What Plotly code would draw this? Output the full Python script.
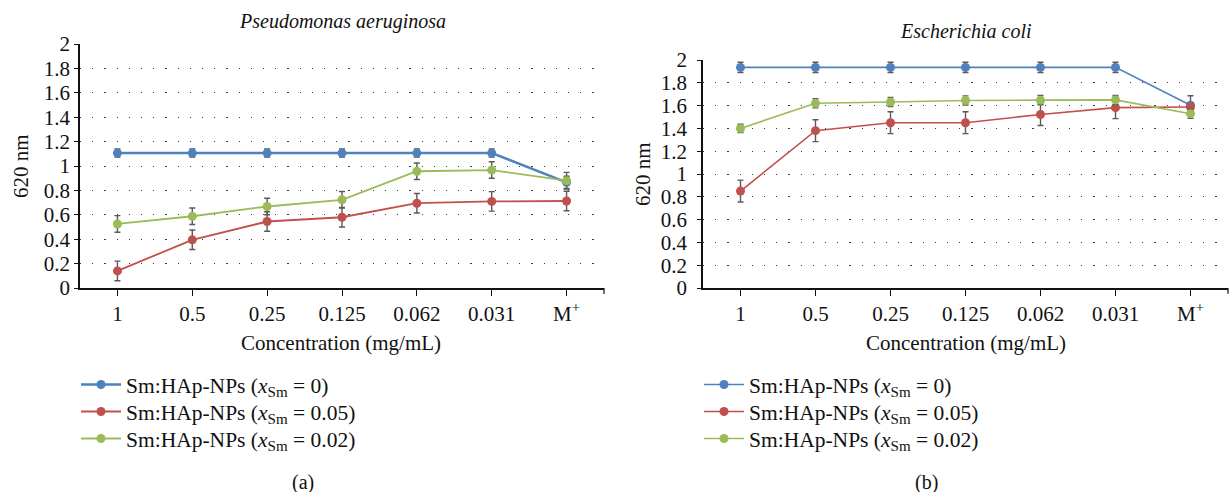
import plotly.graph_objects as go

# Categories on the x axis (concentration, mg/mL; M+ = positive control)
categories = ["1", "0.5", "0.25", "0.125", "0.062", "0.031", "M<sup>+</sup>"]

series_names = [
    "Sm:HAp-NPs (<i>x</i><sub>Sm</sub> = 0)",
    "Sm:HAp-NPs (<i>x</i><sub>Sm</sub> = 0.05)",
    "Sm:HAp-NPs (<i>x</i><sub>Sm</sub> = 0.02)",
]
series_colors = ["#4F81BD", "#C0504D", "#9BBB59"]

# (a) Pseudomonas aeruginosa, absorbance at 620 nm
pa_x0 = [1.106, 1.106, 1.106, 1.106, 1.106, 1.106, 0.866]
pa_x0_err = [0.033, 0.033, 0.033, 0.033, 0.033, 0.033, 0.05]
pa_x005 = [0.14, 0.395, 0.545, 0.58, 0.695, 0.71, 0.713]
pa_x005_err = [0.08, 0.08, 0.08, 0.08, 0.08, 0.08, 0.08]
pa_x002 = [0.525, 0.588, 0.668, 0.723, 0.957, 0.967, 0.88]
pa_x002_err = [0.068, 0.068, 0.068, 0.068, 0.068, 0.068, 0.068]

# (b) Escherichia coli, absorbance at 620 nm
ec_x0 = [1.935, 1.935, 1.935, 1.935, 1.935, 1.935, 1.603]
ec_x0_err = [0.045, 0.045, 0.045, 0.045, 0.045, 0.045, 0.083]
ec_x005 = [0.85, 1.38, 1.45, 1.45, 1.522, 1.582, 1.588]
ec_x005_err = [0.096, 0.096, 0.096, 0.096, 0.096, 0.096, 0.03]
ec_x002 = [1.40, 1.62, 1.632, 1.645, 1.648, 1.65, 1.529]
ec_x002_err = [0.037, 0.04, 0.04, 0.04, 0.04, 0.04, 0.04]

W, H = 1230, 492
FONT = "Liberation Serif"
INK = "#111111"


def px_x(p):
    return p / W


def px_y(p):
    return 1 - p / H


fig = go.Figure()

# one legend box per entry so each row sits at its own position
legend_rows = [383, 410, 437]
panels = [
    dict(xa="x", ya="y", legends=["legend", "legend2", "legend3"], lx=76,
         data=[(pa_x0, pa_x0_err), (pa_x005, pa_x005_err), (pa_x002, pa_x002_err)],
         widths=[2.6, 1.8, 1.8]),
    dict(xa="x2", ya="y2", legends=["legend4", "legend5", "legend6"], lx=699,
         data=[(ec_x0, ec_x0_err), (ec_x005, ec_x005_err), (ec_x002, ec_x002_err)],
         widths=[1.6, 1.6, 1.6]),
]

legend_layout = {}
for panel in panels:
    for (vals, errs), name, color, lw, lg, row in zip(
            panel["data"], series_names, series_colors, panel["widths"],
            panel["legends"], legend_rows):
        fig.add_trace(go.Scatter(
            x=categories, y=vals, name=name, mode="lines+markers",
            xaxis=panel["xa"], yaxis=panel["ya"], legend=lg,
            line=dict(color=color, width=lw),
            marker=dict(color=color, size=9),
            error_y=dict(type="data", array=errs, visible=True,
                         color="#5a5a5a", thickness=1.4, width=3),
        ))
        legend_layout[lg] = dict(
            x=px_x(panel["lx"]), y=px_y(row - 19), xanchor="left",
            yanchor="top", bgcolor="rgba(0,0,0,0)",
            font=dict(family=FONT, size=21.5, color=INK), itemwidth=40,
        )

x_common = dict(
    type="category", range=[-0.5, 6.5], showline=True, linecolor=INK,
    linewidth=1.6, ticks="outside", ticklen=6, tickcolor=INK,
    tickwidth=1.2, showgrid=False, zeroline=False,
    tickfont=dict(family=FONT, size=21, color=INK),
    ticklabelstandoff=0,
)
y_common = dict(
    range=[0, 2], dtick=0.2, showline=True, linecolor=INK,
    linewidth=1.6, ticks="outside", ticklen=4, tickcolor=INK,
    tickwidth=1.2, showgrid=True, gridcolor="#3a3a3a", gridwidth=1.2,
    griddash="1.2px,11px", zeroline=False,
    tickfont=dict(family=FONT, size=21, color=INK),
)

fig.update_layout(
    width=W, height=H,
    margin=dict(l=0, r=0, t=0, b=0, autoexpand=False),
    paper_bgcolor="white", plot_bgcolor="white",
    font=dict(family=FONT, size=21, color=INK),
    xaxis=dict(domain=[px_x(80), px_x(604)], anchor="y", **x_common),
    yaxis=dict(domain=[px_y(288), px_y(44)], anchor="x",
               ticklabelstandoff=0, **y_common),
    xaxis2=dict(domain=[px_x(703), px_x(1228)], anchor="y2", **x_common),
    yaxis2=dict(domain=[px_y(288), px_y(60)], anchor="x2",
                ticklabelstandoff=6, **y_common),
    showlegend=True,
    **legend_layout,
)

# Closing tick at the right end of each x axis
for xa, ya in [("x", "y"), ("x2", "y2")]:
    fig.add_shape(type="line", xref=f"{xa} domain", yref=f"{ya} domain",
                  x0=1, x1=1, y0=0, y1=-0.025,
                  line=dict(color=INK, width=1.2))

annotations = [
    # panel titles
    dict(text="<i>Pseudomonas aeruginosa</i>", x=px_x(342), y=px_y(22), size=20),
    dict(text="<i>Escherichia coli</i>", x=px_x(966), y=px_y(31), size=20),
    # x axis titles
    dict(text="Concentration (mg/mL)", x=px_x(341), y=px_y(343), size=21),
    dict(text="Concentration (mg/mL)", x=px_x(966), y=px_y(343), size=21),
    # panel labels
    dict(text="(a)", x=px_x(303), y=px_y(482), size=20),
    dict(text="(b)", x=px_x(926), y=px_y(482), size=20),
]
for a in annotations:
    fig.add_annotation(text=a["text"], x=a["x"], y=a["y"], xref="paper",
                       yref="paper", xanchor="center", yanchor="middle",
                       showarrow=False,
                       font=dict(family=FONT, size=a["size"], color=INK))

# y axis titles
for xpos, ypos in [(21, 166), (643, 174)]:
    fig.add_annotation(text="620 nm", x=px_x(xpos), y=px_y(ypos), xref="paper",
                       yref="paper", xanchor="center", yanchor="middle",
                       textangle=-90, showarrow=False,
                       font=dict(family=FONT, size=21, color=INK))

fig.write_html("out.html")
